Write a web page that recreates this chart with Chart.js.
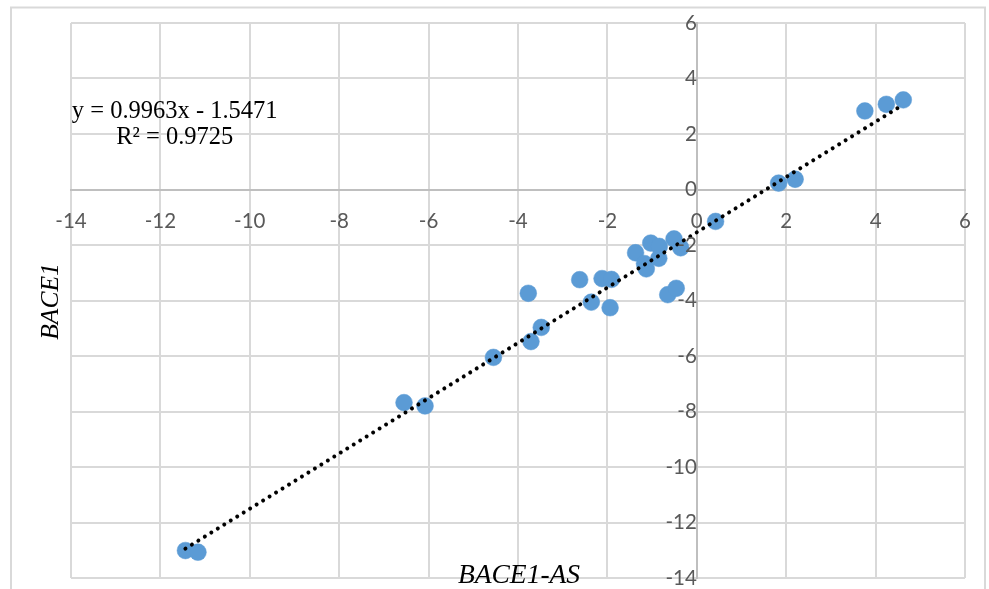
<!DOCTYPE html>
<html><head><meta charset="utf-8">
<script src="https://cdn.jsdelivr.net/npm/chart.js@4/dist/chart.umd.min.js"></script>
<style>html,body{margin:0;padding:0;background:#fff;} canvas{display:block}</style>
</head><body>
<canvas id="c" width="989" height="589"></canvas>
<script>
// BACE1-AS (x) and BACE1 (y) values
const bace1AS = [-11.44, -11.16, -6.55, -6.08, -4.55, -3.71, -3.48, -3.77, -2.62, -2.36,
                 -2.12, -1.91, -1.94, -1.37, -1.03, -1.17, -1.13, -0.84, -0.85, -0.51,
                 -0.36, -0.65, -0.46, 0.42, 1.83, 2.20, 3.76, 4.24, 4.62];
const bace1   = [-13.01, -13.07, -7.68, -7.80, -6.05, -5.48, -4.97, -3.74, -3.25, -4.06,
                 -3.21, -3.24, -4.26, -2.28, -1.93, -2.67, -2.86, -2.05, -2.48, -1.78,
                 -2.10, -3.79, -3.56, -1.15, 0.23, 0.37, 2.83, 3.07, 3.23];
// linear trendline end points (y = 0.9963x - 1.5471)
const trendX = [-11.44, 4.62];
const trendY = [-12.94, 3.06];
const axisMin = -14, axisMax = 6, axisStep = 2;
const xTitle = 'BACE1-AS';
const yTitle = 'BACE1';
const equationLines = ['y = 0.9963x - 1.5471', 'R² = 0.9725'];

const points = bace1AS.map((x, i) => ({x: x, y: bace1[i]}));
const trend = trendX.map((x, i) => ({x: x, y: trendY[i]}));

const decor = {
  id: 'decor',
  beforeDraw(chart) {
    const ctx = chart.ctx;
    ctx.save();
    ctx.fillStyle = '#fff';
    ctx.fillRect(0, 0, chart.width, chart.height);
    ctx.strokeStyle = '#d9d9d9';
    ctx.lineWidth = 2;
    ctx.strokeRect(11, 7.5, 974, 620);
    ctx.restore();
  },
  afterDraw(chart) {
    const ctx = chart.ctx;
    ctx.save();
    ctx.fillStyle = '#000';
    ctx.textAlign = 'center';
    ctx.textBaseline = 'alphabetic';
    ctx.font = '24.5px "Liberation Serif"';
    ctx.fillText(equationLines[0], 174.7, 117.7);
    ctx.fillText(equationLines[1], 174.7, 144);
    ctx.font = 'italic 27.5px "Liberation Serif"';
    ctx.fillText(xTitle, 519, 582.7);
    ctx.translate(58, 301.5);
    ctx.rotate(-Math.PI / 2);
    ctx.font = 'italic 25.5px "Liberation Serif"';
    ctx.fillText(yTitle, 0, 0);
    ctx.restore();
  }
};

const tickFont = {family: 'Lato', size: 20.5};
function noSpace(scale) {
  if (scale.isHorizontal()) { scale.height = 0; } else { scale.width = 0; }
  scale.paddingTop = 0; scale.paddingBottom = 0;
  scale.paddingLeft = 0; scale.paddingRight = 0;
}

new Chart(document.getElementById('c'), {
  type: 'scatter',
  data: {
    datasets: [
      {
        label: 'trend',
        data: trend,
        showLine: true,
        borderColor: '#000',
        borderWidth: 4,
        borderDash: [0.01, 7.6],
        borderCapStyle: 'round',
        pointRadius: 0,
        fill: false,
        order: 0
      },
      {
        label: 'BACE1',
        data: points,
        backgroundColor: '#5b9bd5',
        borderColor: '#5b9bd5',
        borderWidth: 0.5,
        pointRadius: 8.4,
        order: 1
      }
    ]
  },
  options: {
    responsive: false,
    animation: false,
    devicePixelRatio: 1,
    layout: {padding: {left: 71, right: 24, top: 23, bottom: 11}, autoPadding: false},
    plugins: {legend: {display: false}, tooltip: {enabled: false}},
    scales: {
      x: {
        type: 'linear', min: axisMin, max: axisMax,
        position: {y: 0},
        afterFit: noSpace,
        ticks: {stepSize: axisStep, color: '#595959', font: tickFont, padding: 20, z: 1, maxRotation: 0, autoSkip: false},
        grid: {color: '#d9d9d9', lineWidth: 2, drawTicks: false},
        border: {color: '#bfbfbf', width: 2}
      },
      y: {
        type: 'linear', min: axisMin, max: axisMax,
        position: {x: 0},
        afterFit: noSpace,
        ticks: {stepSize: axisStep, color: '#595959', font: tickFont, padding: 23, z: 1, autoSkip: false},
        grid: {color: '#d9d9d9', lineWidth: 2, drawTicks: false},
        border: {color: '#bfbfbf', width: 2}
      }
    }
  },
  plugins: [decor]
});
</script>
</body></html>
